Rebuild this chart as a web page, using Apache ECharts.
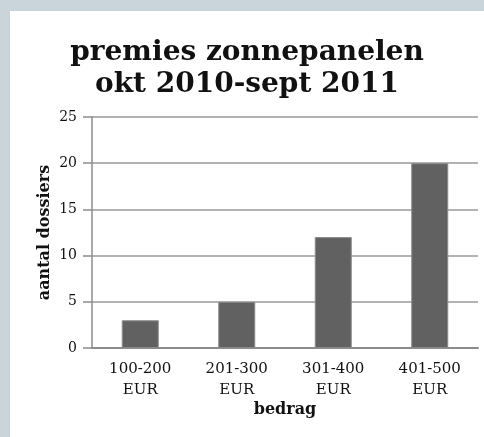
<!DOCTYPE html>
<html><head><meta charset="utf-8">
<script src="https://cdn.jsdelivr.net/npm/echarts@6/dist/echarts.min.js"></script>
<style>
html,body{margin:0;padding:0;background:#c9d4db;width:484px;height:437px;overflow:hidden}
#c{position:absolute;left:10px;top:11px;width:474px;height:426px;background:#fff}
</style></head>
<body><div id="c"></div>
<script>
const titleLines = ['premies zonnepanelen', 'okt 2010-sept 2011'];
const categories = ['100-200\nEUR', '201-300\nEUR', '301-400\nEUR', '401-500\nEUR'];
const values = [3, 5, 12, 20];
const yName = 'aantal dossiers';
const xName = 'bedrag';
const serif = '"DejaVu Serif", "Liberation Serif", serif';

const chart = echarts.init(document.getElementById('c'));
chart.setOption({
  animation: false,
  title: {
    text: titleLines.join('\n'),
    left: 'center', top: 21,
    textStyle: {fontFamily: serif, fontWeight: 'bold', fontSize: 28, lineHeight: 32, color: '#111'}
  },
  grid: {left: 82, right: 6, top: 106, bottom: 89},
  xAxis: {
    type: 'category', data: categories,
    name: xName, nameLocation: 'middle', nameGap: 54, nameMoveOverlap: false,
    nameTextStyle: {fontFamily: serif, fontWeight: 'bold', fontSize: 16, color: '#111'},
    axisLine: {lineStyle: {color: '#8c8c8c', width: 2}},
    axisTick: {show: false},
    axisLabel: {fontFamily: serif, fontSize: 15, color: '#111', margin: 11, lineHeight: 21}
  },
  yAxis: {
    type: 'value', min: 0, max: 25, interval: 5,
    name: yName, nameLocation: 'middle', nameGap: 39, nameRotate: 90, nameMoveOverlap: false,
    nameTextStyle: {fontFamily: serif, fontWeight: 'bold', fontSize: 16, color: '#111'},
    axisLine: {show: true, lineStyle: {color: '#8c8c8c', width: 1.5}},
    axisTick: {show: true, length: 9, lineStyle: {color: '#8c8c8c', width: 1.5}},
    axisLabel: {fontFamily: serif, fontSize: 14, color: '#111', margin: 15},
    splitLine: {lineStyle: {color: '#9a9a9a', width: 1.5}}
  },
  series: [{
    type: 'bar', data: values, barWidth: 37,
    itemStyle: {color: '#616161', borderColor: '#8a8a8a', borderWidth: 1}
  }]
});
</script></body></html>
